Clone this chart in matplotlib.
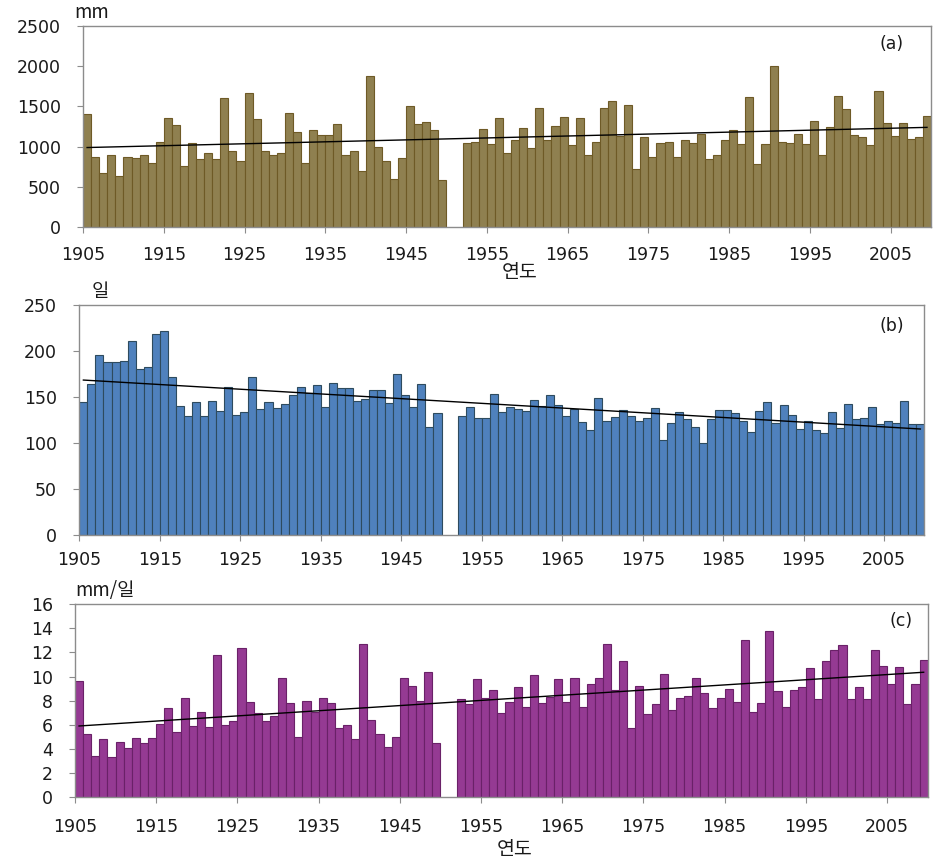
import numpy as np
import matplotlib
matplotlib.use("Agg")
import matplotlib.pyplot as plt

years_early = list(range(1905, 1950))
years_late = list(range(1952, 2010))
years = years_early + years_late

precip_early = [1400, 870, 670, 890, 630, 870, 860, 890, 800, 1060,
                1350, 1270, 760, 1040, 850, 920, 850, 1610, 950, 820,
                1670, 1340, 950, 890, 920, 1420, 1180, 800, 1210, 1140,
                1140, 1280, 900, 950, 690, 1880, 1000, 820, 600, 860,
                1500, 1280, 1300, 1210, 590]
precip_late = [1050, 1060, 1220, 1030, 1350, 920, 1080, 1230, 980, 1480,
               1080, 1260, 1370, 1020, 1350, 900, 1060, 1480, 1570, 1130,
               1520, 720, 1120, 870, 1040, 1060, 870, 1080, 1040, 1160,
               840, 900, 1080, 1210, 1030, 1620, 780, 1030, 2000, 1060,
               1040, 1160, 1030, 1320, 900, 1240, 1630, 1470, 1140, 1120,
               1020, 1690, 1290, 1130, 1290, 1090, 1120, 1380]

days_early = [145, 165, 196, 188, 188, 189, 211, 181, 183, 219,
              222, 172, 141, 130, 145, 130, 146, 135, 161, 131,
              134, 172, 137, 145, 138, 143, 152, 161, 155, 163,
              140, 166, 160, 160, 146, 148, 158, 158, 144, 175,
              152, 140, 164, 118, 133]
days_late = [130, 140, 127, 128, 154, 134, 140, 137, 135, 147,
             141, 152, 142, 130, 137, 123, 114, 149, 124, 129,
             136, 130, 124, 127, 138, 104, 122, 134, 126, 118,
             100, 126, 136, 136, 133, 124, 112, 135, 145, 122,
             142, 131, 116, 124, 115, 111, 134, 117, 143, 126,
             128, 140, 121, 124, 122, 146, 121, 121]

intensity_early = [9.6, 5.2, 3.4, 4.8, 3.3, 4.6, 4.1, 4.9, 4.5, 4.9,
                   6.1, 7.4, 5.4, 8.2, 5.9, 7.1, 5.8, 11.8, 6.0, 6.3,
                   12.4, 7.9, 7.0, 6.3, 6.7, 9.9, 7.8, 5.0, 8.0, 7.1,
                   8.2, 7.8, 5.7, 6.0, 4.8, 12.7, 6.4, 5.2, 4.2, 5.0,
                   9.9, 9.2, 8.0, 10.4, 4.5]
intensity_late = [8.1, 7.7, 9.8, 8.2, 8.9, 7.0, 7.9, 9.1, 7.5, 10.1,
                  7.8, 8.3, 9.8, 7.9, 9.9, 7.5, 9.4, 9.9, 12.7, 8.9,
                  11.3, 5.7, 9.2, 6.9, 7.7, 10.2, 7.2, 8.2, 8.4, 9.9,
                  8.6, 7.4, 8.2, 9.0, 7.9, 13.0, 7.1, 7.8, 13.8, 8.8,
                  7.5, 8.9, 9.1, 10.7, 8.1, 11.3, 12.2, 12.6, 8.1, 9.1,
                  8.1, 12.2, 10.9, 9.4, 10.8, 7.7, 9.4, 11.4]

xtick_years = [1905, 1915, 1925, 1935, 1945, 1955, 1965, 1975, 1985, 1995, 2005]

panels = [
    dict(vals=precip_early + precip_late, ylim=2500, yticks=[0, 500, 1000, 1500, 2000, 2500],
         unit="mm", unit_x=-0.010, tag="(a)", tag_x=0.953, face="#8F8050", edge="#6E5A26",
         xlabel_y=-0.175, xpad=10, rect=[0.0876, 0.7370, 0.8945, 0.2329]),
    dict(vals=days_early + days_late, ylim=250, yticks=[0, 50, 100, 150, 200, 250],
         unit="일", unit_x=0.015, tag="(b)", tag_x=0.961, face="#4F81BD", edge="#2E4B5E",
         xlabel_y=None, xpad=7, rect=[0.0837, 0.3797, 0.8914, 0.2665]),
    dict(vals=intensity_early + intensity_late, ylim=16, yticks=list(range(0, 17, 2)),
         unit="mm/일", unit_x=0.0, tag="(c)", tag_x=0.969, face="#953A93", edge="#6A2168",
         xlabel_y=-0.215, xpad=11, rect=[0.0791, 0.0761, 0.8995, 0.2240]),
]

fig = plt.figure(figsize=(9.48, 8.63), dpi=100)
kfont = ["Noto Sans CJK KR", "DejaVu Sans"]
x = np.array(years, dtype=float)

for p in panels:
    ax = fig.add_axes(p["rect"])
    v = np.array(p["vals"], dtype=float)
    ax.bar(x + 0.5, v, width=1.0, color=p["face"], edgecolor=p["edge"], linewidth=0.8)
    coef = np.polyfit(x, v, 1)
    xt = np.array([1905.5, 2009.5])
    ax.plot(xt, np.polyval(coef, xt), color="black", linewidth=1.0)
    ax.set_xlim(1905, 2010)
    ax.set_ylim(0, p["ylim"])
    ax.set_yticks(p["yticks"])
    ax.set_xticks(xtick_years)
    ax.set_xticklabels([str(t) for t in xtick_years])
    for s in ax.spines.values():
        s.set_color("#8C8C8C")
        s.set_linewidth(1.0)
    ax.tick_params(axis="both", colors="#8C8C8C", labelcolor="#1A1A1A",
                   labelsize=12.5, length=4, direction="out")
    ax.tick_params(axis="x", pad=p["xpad"])
    ax.tick_params(axis="y", pad=12)
    ax.text(p["unit_x"], 1.015, p["unit"], transform=ax.transAxes, fontsize=13.5,
            family=kfont, ha="left", va="bottom", color="#1A1A1A")
    ax.text(p["tag_x"], 0.91, p["tag"], transform=ax.transAxes, fontsize=12.5,
            ha="center", va="center", color="#1A1A1A")
    if p["xlabel_y"] is not None:
        ax.set_xlabel("연도", family=kfont, fontsize=14, color="#1A1A1A")
        ax.xaxis.set_label_coords(0.515, p["xlabel_y"])

fig.savefig("out.png", dpi=100)
